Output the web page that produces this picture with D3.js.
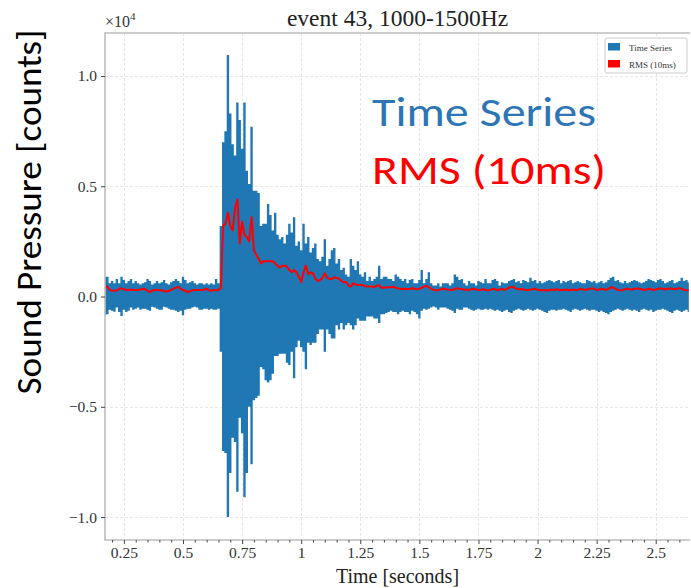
<!DOCTYPE html>
<html lang="en">
<head>
<meta charset="UTF-8">
<title>event 43, 1000-1500Hz</title>
<script src="https://d3js.org/d3.v7.min.js"></script>
<style>
  body { margin: 0; background: #fff; }
  .grid line { stroke: #e6e6e6; stroke-dasharray: 3,2; shape-rendering: crispEdges; }
  .axis line { stroke: #444; }
</style>
</head>
<body>
<script>
// samples every 10 ms starting at t0 (seconds); amplitudes in units of 1e4 counts
var t0 = 0.17, dt = 0.01;

var seriesMax = [
  0.09, 0.09, 0.06, 0.07, 0.06, 0.08, 0.06, 0.09, 0.075, 0.06,
  0.07, 0.08, 0.06, 0.07, 0.06, 0.055, 0.06, 0.065, 0.08, 0.07,
  0.055, 0.06, 0.07, 0.06, 0.065, 0.075, 0.06, 0.055, 0.065, 0.07,
  0.08, 0.07, 0.06, 0.09, 0.075, 0.06, 0.065, 0.07, 0.06, 0.055,
  0.06, 0.06, 0.055, 0.06, 0.055, 0.06, 0.055, 0.08, 0.06, 0.32,
  0.70, 0.75, 1.095, 0.83, 0.69, 0.64, 0.88, 0.80, 0.67, 0.88,
  0.57, 0.51, 0.77, 0.48, 0.48, 0.47, 0.32, 0.33, 0.33, 0.42,
  0.37, 0.30, 0.38, 0.28, 0.26, 0.27, 0.24, 0.28, 0.33, 0.29,
  0.36, 0.23, 0.25, 0.21, 0.33, 0.24, 0.27, 0.20, 0.22, 0.24,
  0.17, 0.16, 0.18, 0.26, 0.14, 0.17, 0.21, 0.22, 0.15, 0.17,
  0.12, 0.13, 0.10, 0.09, 0.17, 0.14, 0.12, 0.16, 0.10, 0.09,
  0.11, 0.07, 0.09, 0.07, 0.08, 0.09, 0.14, 0.08, 0.09, 0.09,
  0.08, 0.08, 0.07, 0.10, 0.09, 0.08, 0.07, 0.08, 0.06, 0.075,
  0.08, 0.06, 0.06, 0.075, 0.12, 0.06, 0.08, 0.11, 0.06, 0.05,
  0.05, 0.06, 0.045, 0.06, 0.06, 0.06, 0.05, 0.06, 0.10, 0.09,
  0.075, 0.08, 0.06, 0.05, 0.07, 0.06, 0.06, 0.05, 0.07, 0.065,
  0.06, 0.08, 0.06, 0.06, 0.075, 0.08, 0.07, 0.05, 0.065, 0.06,
  0.06, 0.07, 0.075, 0.08, 0.065, 0.07, 0.06, 0.075, 0.07, 0.065,
  0.085, 0.07, 0.075, 0.06, 0.07, 0.06, 0.065, 0.07, 0.075, 0.07,
  0.065, 0.07, 0.075, 0.06, 0.07, 0.065, 0.07, 0.075, 0.06, 0.065,
  0.07, 0.065, 0.06, 0.06, 0.075, 0.07, 0.065, 0.07, 0.06, 0.065,
  0.07, 0.06, 0.065, 0.075, 0.085, 0.09, 0.07, 0.075, 0.065, 0.06,
  0.07, 0.06, 0.065, 0.07, 0.075, 0.07, 0.065, 0.06, 0.065, 0.07,
  0.08, 0.075, 0.07, 0.065, 0.075, 0.08, 0.07, 0.06, 0.065, 0.07,
  0.075, 0.06, 0.065, 0.07, 0.085, 0.07, 0.075, 0.065
];

var seriesMin = [
  -0.084, -0.08, -0.06, -0.065, -0.069, -0.05, -0.07, -0.088, -0.06, -0.07,
  -0.065, -0.05, -0.06, -0.055, -0.05, -0.06, -0.055, -0.055, -0.06, -0.065,
  -0.046, -0.05, -0.055, -0.06, -0.06, -0.046, -0.05, -0.055, -0.06, -0.06,
  -0.065, -0.07, -0.065, -0.085, -0.06, -0.055, -0.055, -0.05, -0.046, -0.05,
  -0.06, -0.06, -0.055, -0.055, -0.06, -0.055, -0.06, -0.06, -0.055, -0.25,
  -0.70, -0.71, -1.0, -0.80, -0.64, -0.66, -0.885, -0.55, -0.62, -0.91,
  -0.80, -0.50, -0.76, -0.47, -0.46, -0.45, -0.32, -0.33, -0.38, -0.39,
  -0.38, -0.35, -0.27, -0.27, -0.26, -0.26, -0.26, -0.30, -0.31, -0.25,
  -0.37, -0.23, -0.20, -0.23, -0.25, -0.33, -0.21, -0.22, -0.21, -0.21,
  -0.17, -0.15, -0.15, -0.25, -0.15, -0.17, -0.19, -0.19, -0.13, -0.15,
  -0.12, -0.15, -0.13, -0.12, -0.13, -0.15, -0.13, -0.10, -0.11, -0.11,
  -0.11, -0.09, -0.09, -0.09, -0.10, -0.10, -0.12, -0.08, -0.08, -0.075,
  -0.07, -0.065, -0.07, -0.07, -0.08, -0.07, -0.065, -0.07, -0.07, -0.08,
  -0.065, -0.07, -0.08, -0.10, -0.065, -0.055, -0.06, -0.055, -0.05, -0.045,
  -0.05, -0.06, -0.05, -0.05, -0.05, -0.055, -0.06, -0.065, -0.075, -0.055,
  -0.06, -0.06, -0.05, -0.05, -0.055, -0.06, -0.065, -0.06, -0.055, -0.06,
  -0.06, -0.055, -0.06, -0.055, -0.06, -0.065, -0.06, -0.065, -0.07, -0.065,
  -0.06, -0.07, -0.075, -0.065, -0.06, -0.055, -0.06, -0.065, -0.06, -0.055,
  -0.06, -0.065, -0.06, -0.055, -0.06, -0.065, -0.07, -0.075, -0.065, -0.06,
  -0.06, -0.065, -0.06, -0.06, -0.055, -0.06, -0.065, -0.07, -0.06, -0.055,
  -0.06, -0.065, -0.06, -0.055, -0.06, -0.065, -0.06, -0.06, -0.065, -0.07,
  -0.065, -0.07, -0.075, -0.08, -0.07, -0.065, -0.06, -0.055, -0.06, -0.065,
  -0.06, -0.055, -0.06, -0.065, -0.06, -0.065, -0.07, -0.06, -0.055, -0.06,
  -0.065, -0.06, -0.07, -0.065, -0.06, -0.06, -0.055, -0.06, -0.065, -0.07,
  -0.075, -0.065, -0.06, -0.065, -0.07, -0.065, -0.06, -0.07
];

var rms10ms = [
  0.045, 0.044, 0.03, 0.026, 0.026, 0.028, 0.035, 0.037, 0.033, 0.03,
  0.03, 0.032, 0.03, 0.03, 0.03, 0.032, 0.035, 0.033, 0.025, 0.02,
  0.027, 0.03, 0.03, 0.028, 0.028, 0.025, 0.022, 0.026, 0.03, 0.036,
  0.04, 0.044, 0.035, 0.03, 0.025, 0.02, 0.025, 0.028, 0.03, 0.03,
  0.03, 0.03, 0.032, 0.035, 0.028, 0.026, 0.03, 0.028, 0.03, 0.04,
  0.32, 0.33, 0.38, 0.32, 0.30, 0.40, 0.44, 0.24, 0.34, 0.28,
  0.27, 0.25, 0.36, 0.21, 0.19, 0.17, 0.15, 0.16, 0.16, 0.16,
  0.16, 0.16, 0.15, 0.14, 0.13, 0.14, 0.14, 0.135, 0.12, 0.11,
  0.12, 0.11, 0.09, 0.065, 0.11, 0.14, 0.10, 0.11, 0.105, 0.08,
  0.07, 0.075, 0.085, 0.105, 0.085, 0.08, 0.08, 0.087, 0.085, 0.08,
  0.07, 0.065, 0.066, 0.05, 0.045, 0.06, 0.055, 0.052, 0.052, 0.052,
  0.048, 0.045, 0.045, 0.045, 0.042, 0.05, 0.05, 0.04, 0.04, 0.042,
  0.042, 0.042, 0.044, 0.04, 0.037, 0.034, 0.035, 0.034, 0.034, 0.034,
  0.038, 0.035, 0.033, 0.036, 0.04, 0.045, 0.048, 0.042, 0.035, 0.03,
  0.028, 0.03, 0.032, 0.035, 0.033, 0.032, 0.03, 0.03, 0.035, 0.037,
  0.035, 0.034, 0.03, 0.032, 0.03, 0.033, 0.035, 0.032, 0.03, 0.031,
  0.033, 0.03, 0.028, 0.03, 0.035, 0.033, 0.03, 0.032, 0.034, 0.03,
  0.035, 0.04, 0.045, 0.042, 0.036, 0.033, 0.034, 0.032, 0.03, 0.03,
  0.032, 0.033, 0.035, 0.03, 0.03, 0.028, 0.03, 0.027, 0.03, 0.032,
  0.03, 0.033, 0.03, 0.03, 0.03, 0.032, 0.03, 0.03, 0.032, 0.03,
  0.03, 0.035, 0.033, 0.03, 0.032, 0.035, 0.037, 0.035, 0.03, 0.032,
  0.035, 0.033, 0.03, 0.035, 0.042, 0.04, 0.035, 0.03, 0.028, 0.03,
  0.033, 0.035, 0.033, 0.032, 0.035, 0.037, 0.035, 0.033, 0.03, 0.032,
  0.035, 0.033, 0.03, 0.032, 0.035, 0.037, 0.035, 0.032, 0.035, 0.037,
  0.035, 0.033, 0.035, 0.038, 0.035, 0.03, 0.028, 0.03
];

var xTicks = [0.25, 0.5, 0.75, 1, 1.25, 1.5, 1.75, 2, 2.25, 2.5];
var yTicks = [-1.0, -0.5, 0.0, 0.5, 1.0];
var legendLabels = ["Time Series", "RMS (10ms)"];
var legendColors = ["#1f77b4", "#ff0000"];

var margin = {top: 33, right: 1, bottom: 48, left: 105},
    W = 691, H = 588,
    w = W - margin.left - margin.right,
    h = H - margin.top - margin.bottom;

var serif = "'Liberation Serif', 'DejaVu Serif', serif";
var sans = "Carlito, 'Open Sans', 'Noto Sans', sans-serif";

var data = seriesMax.map(function(v, i) {
  return {t: t0 + i * dt, hi: v, lo: seriesMin[i], rms: rms10ms[i]};
});

var x = d3.scaleLinear().domain([0.17, 2.645]).range([0, w]);
var y = d3.scaleLinear().domain([-1.104, 1.195]).range([h, 0]);

var svg = d3.select("body").append("svg")
  .attr("width", W)
  .attr("height", H);

var g = svg.append("g")
  .attr("transform", "translate(" + margin.left + "," + margin.top + ")");

g.append("clipPath").attr("id", "plot-clip")
  .append("rect").attr("width", w).attr("height", h);

// grid
g.append("g")
  .attr("class", "grid")
  .call(d3.axisBottom(x).tickValues(xTicks).tickSize(h).tickFormat(""))
  .call(function(s) { s.select(".domain").remove(); });
g.append("g")
  .attr("class", "grid")
  .call(d3.axisLeft(y).tickValues(yTicks).tickSize(-w).tickFormat(""))
  .call(function(s) { s.select(".domain").remove(); });

var plot = g.append("g").attr("clip-path", "url(#plot-clip)");

var band = d3.area()
  .x(function(d) { return x(d.t); })
  .y0(function(d) { return y(d.lo); })
  .y1(function(d) { return y(d.hi); })
  .curve(d3.curveStep);

plot.append("path")
  .datum(data)
  .attr("d", band)
  .attr("fill", legendColors[0]);

var rmsLine = d3.line()
  .x(function(d) { return x(d.t); })
  .y(function(d) { return y(d.rms); });

plot.append("path")
  .datum(data)
  .attr("d", rmsLine)
  .attr("fill", "none")
  .attr("stroke", legendColors[1])
  .attr("stroke-width", 2)
  .attr("stroke-linejoin", "round");

// frame
g.append("path")
  .attr("d", "M" + w + ",0H0V" + h + "H" + w)
  .attr("fill", "none")
  .attr("stroke", "#bdbdbd")
  .attr("stroke-width", 1.6);

// axes
var minor = d3.range(4, 53).filter(function(i) { return i % 5 !== 0; })
  .map(function(i) { return i * 0.05; });

g.append("g")
  .attr("class", "axis")
  .attr("transform", "translate(0," + h + ")")
  .call(d3.axisBottom(x).tickValues(minor).tickSize(2.5).tickFormat(""))
  .call(function(s) { s.select(".domain").remove(); });

g.append("g")
  .attr("class", "axis")
  .attr("transform", "translate(0," + h + ")")
  .call(d3.axisBottom(x).tickValues(xTicks).tickSize(4).tickPadding(3)
    .tickFormat(d3.format("~g")))
  .call(function(s) { s.select(".domain").remove(); })
  .attr("font-family", serif)
  .attr("font-size", 15.5)
  .selectAll("text").attr("fill", "#333");

g.append("g")
  .attr("class", "axis")
  .call(d3.axisLeft(y).tickValues(yTicks).tickSize(4).tickPadding(4)
    .tickFormat(d3.format(".1f")))
  .call(function(s) { s.select(".domain").remove(); })
  .attr("font-family", serif)
  .attr("font-size", 15.5)
  .selectAll("text").attr("fill", "#333");

// offset label
var off = svg.append("text")
  .attr("x", margin.left)
  .attr("y", 27)
  .attr("font-family", serif)
  .attr("font-size", 16)
  .attr("fill", "#333");
off.append("tspan").text("×10");
off.append("tspan").attr("dy", -7).attr("font-size", 11).text("4");

// title
svg.append("text")
  .attr("x", margin.left + w / 2)
  .attr("y", 26)
  .attr("text-anchor", "middle")
  .attr("font-family", serif)
  .attr("font-size", 23.5)
  .attr("fill", "#222")
  .text("event 43, 1000-1500Hz");

// axis labels
svg.append("text")
  .attr("x", margin.left + w / 2)
  .attr("y", 583)
  .attr("text-anchor", "middle")
  .attr("font-family", serif)
  .attr("font-size", 20)
  .attr("fill", "#222")
  .text("Time [seconds]");

svg.append("text")
  .attr("transform", "translate(41,212) rotate(-90)")
  .attr("text-anchor", "middle")
  .attr("font-family", sans)
  .attr("font-size", 35)
  .attr("textLength", 365)
  .attr("lengthAdjust", "spacingAndGlyphs")
  .attr("fill", "#000")
  .text("Sound Pressure [counts]");

// legend
var legend = svg.append("g")
  .attr("transform", "translate(605,38)");
legend.append("rect")
  .attr("width", 82)
  .attr("height", 35)
  .attr("rx", 2)
  .attr("fill", "#fff")
  .attr("stroke", "#cccccc");
var item = legend.selectAll(".item")
  .data(legendLabels)
  .enter().append("g")
  .attr("class", "item")
  .attr("transform", function(d, i) { return "translate(3," + (5 + i * 17) + ")"; });
item.append("rect")
  .attr("width", 12)
  .attr("height", 7.5)
  .attr("fill", function(d, i) { return legendColors[i]; });
item.append("text")
  .attr("x", 21)
  .attr("y", 7.5)
  .attr("font-family", serif)
  .attr("font-size", 9)
  .attr("fill", "#333")
  .text(function(d) { return d; });

// big annotations
svg.append("text")
  .attr("x", 372)
  .attr("y", 126)
  .attr("font-family", sans)
  .attr("font-size", 42)
  .attr("textLength", 224)
  .attr("lengthAdjust", "spacingAndGlyphs")
  .attr("fill", "#2e75b6")
  .text(legendLabels[0]);

svg.append("text")
  .attr("x", 372)
  .attr("y", 184)
  .attr("font-family", sans)
  .attr("font-size", 42)
  .attr("textLength", 234)
  .attr("lengthAdjust", "spacingAndGlyphs")
  .attr("fill", "#ff0000")
  .text(legendLabels[1]);
</script>
</body>
</html>
